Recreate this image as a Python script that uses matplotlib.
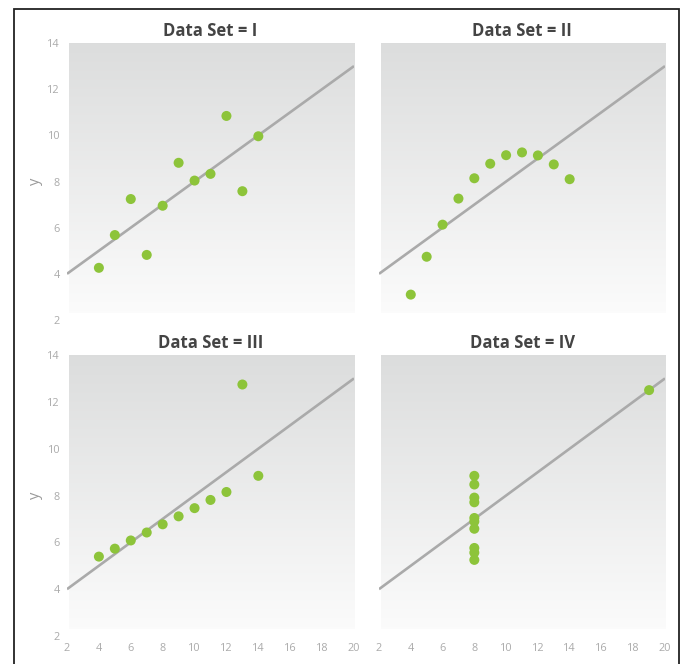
import numpy as np
import matplotlib
matplotlib.use("Agg")
import matplotlib.pyplot as plt
from matplotlib.patches import Rectangle

# Anscombe's quartet
x_123 = [10, 8, 13, 9, 11, 14, 6, 4, 12, 7, 5]
y_I = [8.04, 6.95, 7.58, 8.81, 8.33, 9.96, 7.24, 4.26, 10.84, 4.82, 5.68]
y_II = [9.14, 8.14, 8.74, 8.77, 9.26, 8.10, 6.13, 3.10, 9.13, 7.26, 4.74]
y_III = [7.46, 6.77, 12.74, 7.11, 7.81, 8.84, 6.08, 5.39, 8.15, 6.42, 5.73]
x_IV = [8, 8, 8, 8, 8, 8, 8, 19, 8, 8, 8]
y_IV = [6.58, 5.76, 7.71, 8.84, 8.47, 7.04, 5.25, 12.50, 5.56, 7.91, 6.89]
titles = ["Data Set = I", "Data Set = II", "Data Set = III", "Data Set = IV"]
fit_intercept = 3.0
fit_slope = 0.5
x_ticks = [2, 4, 6, 8, 10, 12, 14, 16, 18, 20]
y_ticks = [2, 4, 6, 8, 10, 12, 14]

datasets = [(x_123, y_I), (x_123, y_II), (x_123, y_III), (x_IV, y_IV)]

W, H = 687, 664
fig = plt.figure(figsize=(W / 100, H / 100), dpi=100)
fig.patch.set_facecolor("white")

FONT = ["Open Sans", "DejaVu Sans"]
GREEN = "#8dc43a"
LINE = "#aaaaaa"
TICK = "#aaaaaa"

# axes pixel boxes: (left, top, right, bottom)
boxes = [(67, 43, 354, 320), (379, 43, 665, 320),
         (67, 355, 354, 636), (379, 355, 665, 636)]

grad = np.linspace(0, 1, 256).reshape(-1, 1)
top_c = np.array([0.862, 0.866, 0.866])
bot_c = np.array([0.985, 0.985, 0.985])
img = top_c[None, None, :] * (1 - grad[:, :, None]) + bot_c[None, None, :] * grad[:, :, None]

for i, ((xs, ys), title) in enumerate(zip(datasets, titles)):
    l, t, r, b = boxes[i]
    ax = fig.add_axes([l / W, 1 - b / H, (r - l) / W, (b - t) / H])
    ax.set_xlim(2, 20)
    ax.set_ylim(2, 14)
    ax.imshow(img, extent=[2.1, 20.05, 2.3, 14], aspect="auto", zorder=0,
              interpolation="bilinear")
    xl = np.array([2, 20])
    ax.plot(xl, fit_intercept + fit_slope * xl, color=LINE, lw=1.9, zorder=2,
            solid_capstyle="butt")
    ax.scatter(xs, ys, s=52, color=GREEN, edgecolors="none", zorder=3)
    for s in ax.spines.values():
        s.set_visible(False)
    ax.set_facecolor("white")
    ax.set_xticks(x_ticks)
    ax.set_yticks(y_ticks)
    ax.tick_params(length=0, labelsize=7.8, labelcolor=TICK, pad=5)
    for lab in ax.get_xticklabels() + ax.get_yticklabels():
        lab.set_family(FONT)
    if i < 2:
        ax.tick_params(labelbottom=False)
    if i % 2 == 1:
        ax.tick_params(labelleft=False)
    else:
        ax.set_ylabel("y", color="#999999", fontsize=10.5, family=FONT, labelpad=3)
    ax.set_title(title, fontsize=12, fontweight="bold", color="#444444",
                 family=FONT, pad=5)

# outer border
fig.add_artist(Rectangle((14 / W, -0.05), (679 - 14) / W, 1.05 - 9 / H,
                         transform=fig.transFigure, fill=False,
                         edgecolor="#222222", lw=1.3, clip_on=False))

fig.savefig("out.png", dpi=100)
